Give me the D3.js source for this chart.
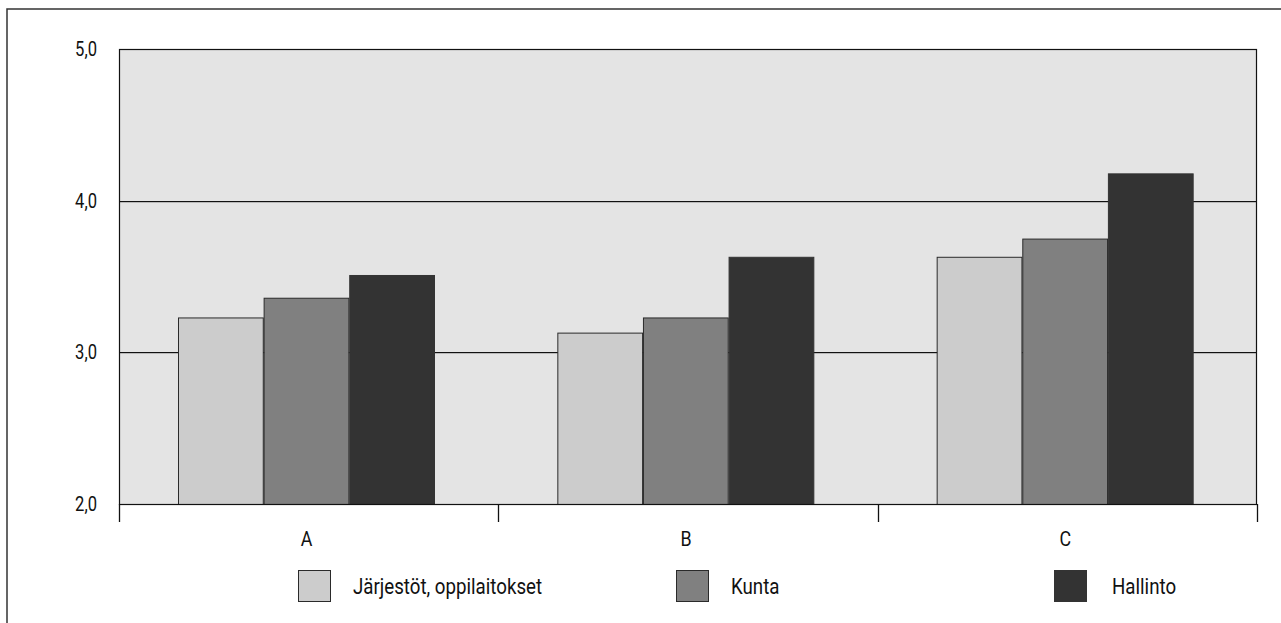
<!DOCTYPE html>
<html>
<head>
<meta charset="utf-8">
<script src="https://cdn.jsdelivr.net/npm/d3@7"></script>
<style>
  body { margin: 0; background: #fff; }
  text { font-family: Roboto, "Liberation Sans", sans-serif; fill: #111; }
</style>
</head>
<body>
<div id="container"></div>
<script>
const categories = ["A", "B", "C"];
const seriesNames = ["Järjestöt, oppilaitokset", "Kunta", "Hallinto"];
const jarjestot = [3.23, 3.13, 3.63];
const kunta = [3.36, 3.23, 3.75];
const hallinto = [3.51, 3.63, 4.18];
const yTicks = [2, 3, 4, 5];
const colors = ["#cccccc", "#808080", "#333333"];

const seriesValues = [jarjestot, kunta, hallinto];
const data = categories.map((c, i) => ({
  cat: c,
  values: seriesNames.map((s, j) => ({ key: s, idx: j, value: seriesValues[j][i] }))
}));

const width = 1281, height = 623;
const plot = { left: 119, top: 49, right: 1257, bottom: 504 };
const squeeze = 0.85; // the original type is a condensed face

const svg = d3.select("#container")
  .append("svg")
  .attr("width", width)
  .attr("height", height);

// outer frame (runs off the right and bottom)
svg.append("rect")
  .attr("x", 7).attr("y", 9)
  .attr("width", 1300).attr("height", 700)
  .attr("fill", "none")
  .attr("stroke", "#333")
  .attr("stroke-width", 1.5);

const x0 = d3.scaleBand().domain(categories).range([plot.left, plot.right]);
const x1 = d3.scaleBand().domain(seriesNames).range([59, 315]).paddingInner(0.01);
const y = d3.scaleLinear().domain([2, 5]).range([plot.bottom, plot.top]);

// plot background
svg.append("rect")
  .attr("x", plot.left).attr("y", plot.top)
  .attr("width", plot.right - plot.left)
  .attr("height", plot.bottom - plot.top)
  .attr("fill", "#e4e4e4");

// gridlines
const grid = svg.append("g");
grid.selectAll(".shadow")
  .data(yTicks.slice(1, 3))
  .enter().append("line")
  .attr("x1", plot.left).attr("x2", plot.right)
  .attr("y1", (d) => Math.round(y(d)) + 1.5)
  .attr("y2", (d) => Math.round(y(d)) + 1.5)
  .attr("stroke", "#b8b8b8");
grid.selectAll(".line")
  .data(yTicks.slice(1, 3))
  .enter().append("line")
  .attr("x1", plot.left).attr("x2", plot.right)
  .attr("y1", (d) => Math.round(y(d)) + 0.5)
  .attr("y2", (d) => Math.round(y(d)) + 0.5)
  .attr("stroke", "#111");

// bars
const groups = svg.append("g")
  .selectAll("g")
  .data(data)
  .enter().append("g")
  .attr("transform", (d) => `translate(${x0(d.cat)},0)`);

groups.selectAll("rect")
  .data((d) => d.values)
  .enter().append("rect")
  .attr("x", (d) => x1(d.key) + 0.5)
  .attr("y", (d) => y(d.value) + 0.5)
  .attr("width", x1.bandwidth())
  .attr("height", (d) => plot.bottom - y(d.value))
  .attr("fill", (d) => colors[d.idx])
  .attr("stroke", (d) => d.idx === 2 ? colors[2] : "#2a2a2a")
  .attr("stroke-width", 1);

// plot frame
svg.append("rect")
  .attr("x", plot.left + 0.5).attr("y", plot.top + 0.5)
  .attr("width", plot.right - plot.left - 1)
  .attr("height", plot.bottom - plot.top)
  .attr("fill", "none")
  .attr("stroke", "#111")
  .attr("stroke-width", 1.2);

// y axis labels
svg.append("g")
  .selectAll("text")
  .data(yTicks)
  .enter().append("text")
  .attr("transform", (d) => `translate(97,${y(d) + 7}) scale(${squeeze},1)`)
  .attr("text-anchor", "end")
  .attr("font-size", "19.5px")
  .text((d) => d3.format(".1f")(d).replace(".", ","));

// x axis ticks
const tickPos = categories.map((c) => x0(c)).concat([plot.right]);
svg.append("g")
  .selectAll("line")
  .data(tickPos)
  .enter().append("line")
  .attr("x1", (d) => Math.round(d) + 0.5)
  .attr("x2", (d) => Math.round(d) + 0.5)
  .attr("y1", plot.bottom)
  .attr("y2", plot.bottom + 18)
  .attr("stroke", "#111")
  .attr("stroke-width", 1.3);

svg.append("g")
  .selectAll("text")
  .data(categories)
  .enter().append("text")
  .attr("transform", (d) => `translate(${x0(d) + x0.bandwidth() / 2 - 2},546) scale(${squeeze},1)`)
  .attr("text-anchor", "middle")
  .attr("font-size", "21px")
  .text((d) => d);

// legend
const legendX = [298, 676, 1054];
const legend = svg.append("g")
  .selectAll("g")
  .data(seriesNames)
  .enter().append("g")
  .attr("transform", (d, i) => `translate(${legendX[i]},570)`);

legend.append("rect")
  .attr("x", 0.5).attr("y", 0.5)
  .attr("width", 32).attr("height", 31)
  .attr("fill", (d, i) => colors[i])
  .attr("stroke", (d, i) => i === 2 ? colors[2] : "#2a2a2a");

legend.append("text")
  .attr("transform", (d, i) => `translate(${i === 2 ? 58 : 55},24) scale(${squeeze},1)`)
  .attr("font-size", "22px")
  .text((d) => d);
</script>
</body>
</html>
